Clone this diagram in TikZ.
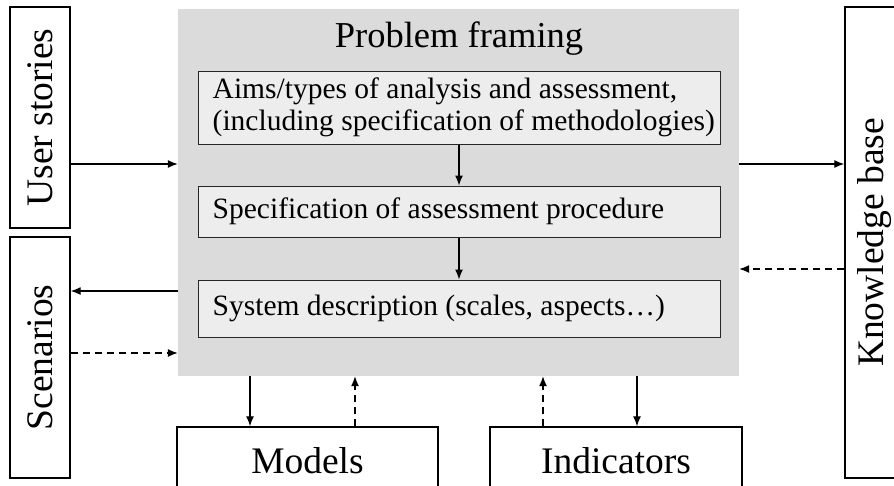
\documentclass[tikz,border=0pt]{standalone}
\usepackage{fontspec}
\setmainfont{Liberation Serif}
\usetikzlibrary{arrows.meta}
\begin{document}
\begin{tikzpicture}[x=1pt,y=-1pt,
  outerbox/.style={draw=black,line width=1.4pt,fill=white,minimum width=#1,inner sep=0pt},
  graybox/.style={fill=black!14,draw=none,inner sep=0pt},
  innerbox/.style={draw=black!85,line width=1pt,fill=black!7,inner sep=0pt,minimum width=522pt},
  innertext/.style={anchor=west,inner sep=0pt,align=left,font=\fontsize{29.5}{32}\selectfont},
  bigfont/.style={font=\fontsize{37.5}{40}\selectfont},
  arr/.style={line width=1.3pt,-{Latex[length=10pt,width=8pt]}},
  darr/.style={arr,dash pattern=on 7pt off 5pt}]
\useasboundingbox (0,0) rectangle (894,485);
\clip (0,0) rectangle (894,485);
% gray frame
\node[graybox,minimum width=561pt,minimum height=367pt] (pf) at (458.5,192.5) {};
\node[font=\fontsize{36.5}{40}\selectfont] (title) at (459,39) {Problem framing};
% inner boxes
\node[innerbox,minimum height=73pt] (b1) at (459,107.5) {};
\node[innertext] (t1) at ([xshift=15pt]b1.west)
  {Aims/types of analysis and assessment,\\(including specification of methodologies)};
\node[innerbox,minimum height=51pt] (b2) at (459,211.5) {};
\node[innertext] (t2) at ([xshift=15pt]b2.west) {Specification of assessment procedure};
\node[innerbox,minimum height=57pt] (b3) at (459,308.5) {};
\node[innertext] (t3) at ([xshift=15pt]b3.west) {System description (scales, aspects\ldots)};
% side boxes
\node[outerbox=221pt,minimum height=60pt,rotate=90,bigfont] (us) at (40,117.5) {User stories};
\node[outerbox=241pt,minimum height=60pt,rotate=90,bigfont] (sc) at (40,357.5) {Scenarios};
\node[outerbox=471pt,minimum height=60pt,rotate=90,bigfont] (kb) at (875,242.5) {Knowledge base};
\node[outerbox=261pt,minimum height=68pt,bigfont] (mo) at (307.5,461) {Models};
\node[outerbox=252pt,minimum height=68pt,bigfont] (in) at (616,461) {Indicators};
% connectors
\draw[arr] (us.south |- 0,164) -- (pf.west |- 0,164);
\draw[arr] (pf.east |- 0,164) -- (kb.north |- 0,164);
\draw[darr] (kb.north |- 0,269) -- (pf.east |- 0,269);
\draw[arr] (pf.west |- 0,291) -- (sc.south |- 0,291);
\draw[darr] (sc.south |- 0,353) -- (pf.west |- 0,353);
\draw[arr] (b1.south) -- (b2.north);
\draw[arr] (b2.south) -- (b3.north);
\draw[arr] (250,0 |- pf.south) -- (250,0 |- mo.north);
\draw[darr] (355,0 |- mo.north) -- (355,0 |- pf.south);
\draw[darr] (543,0 |- in.north) -- (543,0 |- pf.south);
\draw[arr] (637,0 |- pf.south) -- (637,0 |- in.north);
\end{tikzpicture}
\end{document}
